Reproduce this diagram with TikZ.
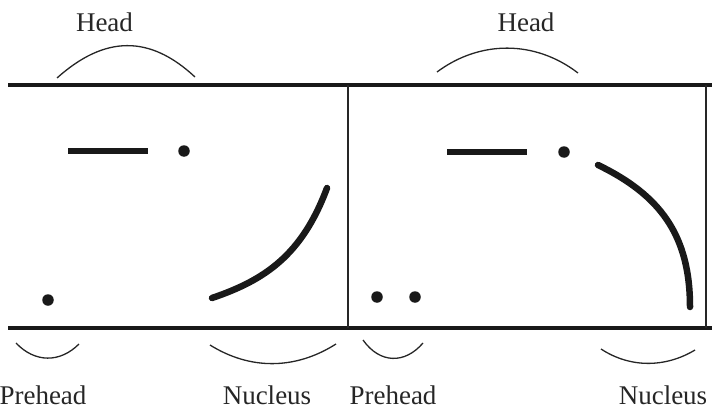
\documentclass[tikz,border=0pt]{standalone}
\usepackage{fontspec}
\setmainfont{Liberation Serif}
\begin{document}
\begin{tikzpicture}[x=1pt,y=-1pt,
  rule/.style={line width=4.5pt,black!90},
  divider/.style={line width=1.4pt,black!85},
  span/.style={line width=1.3pt,black!85},
  pitch/.style={line width=6.5pt,black!90,line cap=round},
  blob/.style={circle,fill=black!90,inner sep=0pt,minimum size=11.5pt},
  lbl/.style={anchor=base,inner sep=0pt,text=black!85,font=\fontsize{27}{30}\selectfont}]
\useasboundingbox (0,0) rectangle (712,412);
% staff lines
\coordinate (tl) at (8,85);
\coordinate (tr) at (712,85);
\coordinate (bl) at (8,328);
\coordinate (br) at (712,328);
\draw[rule] (tl) -- (tr);
\draw[rule] (bl) -- (br);
\coordinate (m1) at (348,85);
\coordinate (m2) at (348,328);
\coordinate (r1) at (706,85);
\coordinate (r2) at (706,328);
\draw[divider] (m1) -- (m2);
\draw[divider] (r1) -- (r2);
% labels
\node[lbl] (headA) at (104.5,32) {Head};
\node[lbl] (headB) at (526,32) {Head};
\node[lbl] (preA) at (43,404) {Prehead};
\node[lbl] (nucA) at (267,404) {Nucleus};
\node[lbl] (preB) at (393,404) {Prehead};
\node[lbl] (nucB) at (663,404) {Nucleus};
% brackets
\draw[span] (57,78) .. controls (105,35) and (150,35) .. (195,77);
\draw[span] (437,72) .. controls (480,40) and (535,40) .. (578,73);
\draw[span] (16,343) .. controls (35,363) and (60,363) .. (79,344);
\draw[span] (210,345) .. controls (250,370) and (295,370) .. (336,344);
\draw[span] (363,340) .. controls (380,364) and (405,364) .. (423,343);
\draw[span] (601,349) .. controls (630,368) and (665,368) .. (695,350);
% left pattern
\draw[pitch,line cap=butt] (68,151) -- (148,151);
\node[blob] (d1) at (184,151) {};
\node[blob] (d2) at (48,300) {};
\draw[pitch] (212,298) .. controls (265,280) and (302,255) .. (327,188);
% right pattern
\draw[pitch,line cap=butt] (447,152) -- (527,152);
\node[blob] (d3) at (564,152) {};
\node[blob] (d4) at (377,297) {};
\node[blob] (d5) at (415,297) {};
\draw[pitch] (598,165) .. controls (660,195) and (690,235) .. (690,307);
\end{tikzpicture}
\end{document}
